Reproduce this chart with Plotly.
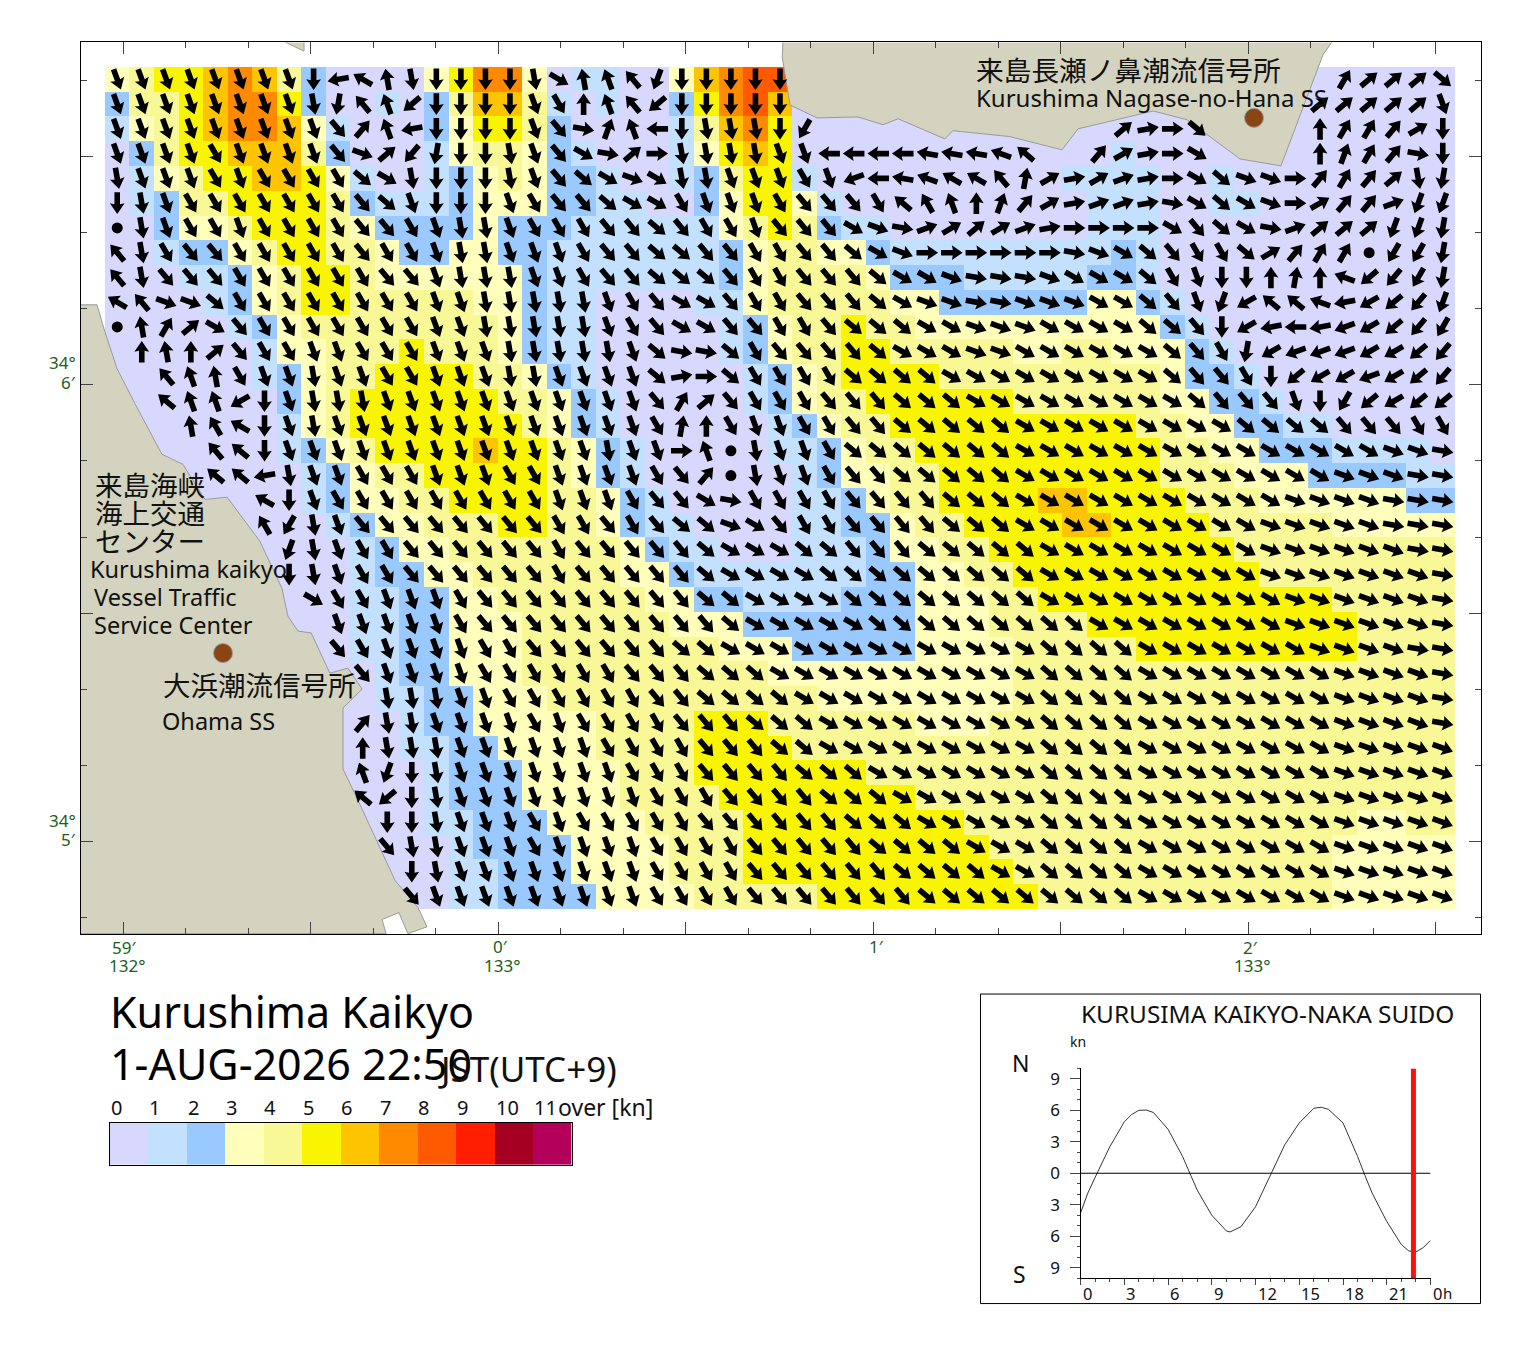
"""Kurushima Kaikyo tidal current map with the daily current curve."""
import math
import plotly.graph_objects as go

# current speed level of each grid cell, north to south, west to east
LEVEL_ROWS = [
    "3455676420000357730" "1100367880000000000" "00000000000000000",
    "2445677520010246641" "0100257860000000000" "00000000000000000",
    "1345677631000235542" "0000146750000000000" "00000000000000000",
    "0245566642000134432" "1000135650000000000" "00010000000000000",
    "0134556653100123432" "2100124551000000000" "01111001000000000",
    "0124455554211123332" "2110023553100000000" "00111001100000000",
    "0023345554322223222" "1111113454211000000" "00111000000000000",
    "0012234554432233221" "1111112344332111111" "11121000000000000",
    "0001123455433333321" "1111112344443222111" "11221000000000000",
    "0000123455444443321" "1000011344444332222" "22332100000000000",
    "0000012344444444321" "1000001234454433333" "33333210000000000",
    "0000001334445444321" "1000001234455444443" "34433321000000000",
    "0000001234455554432" "1000000123455554444" "44444322100000000",
    "0000000234555555443" "2100000123445555554" "44444332210000000",
    "0000000134555555543" "2100000012344555555" "55554433221100000",
    "0000000123455556554" "3210000011234455555" "55555443322211110",
    "0000000012344555554" "3210000001233445555" "55555444333222211",
    "0000000012334455554" "4321000001123445555" "66555544433333322",
    "0000000001233444554" "4321100001122344555" "56655554444433333",
    "0000000000123344444" "4432110001112334455" "55555555444444444",
    "0000000000122334444" "4433211111112233445" "55555555544444444",
    "0000000000112233444" "4443322111122233344" "55555555555544444",
    "0000000000112233344" "4444333222222233344" "44555555555554444",
    "0000000000112233344" "4444443332222233334" "44445555555554444",
    "0000000000012233344" "4444444433333333334" "44444444444444444",
    "0000000000011223334" "4444444444333333334" "44444444444444444",
    "0000000000001223333" "3444455544444433344" "44444444444444444",
    "0000000000001122333" "3444455554444444444" "44444444444444444",
    "0000000000000122233" "3344455555554444444" "44444444444444444",
    "0000000000000122233" "3344445555555544444" "44444444444444444",
    "0000000000000112223" "3334444555555555444" "44444444444443344",
    "0000000000000012222" "3333444555555555544" "44444444444433333",
    "0000000000000011222" "3333444555555555554" "44444444444433333",
    "0000000000000011222" "2333344444555555555" "44444444444433333",
]

# heading of each cell in tens of degrees, base 36 (0 north, 9 east, i south, r west)
# "." is slack water, blank is no arrow
HEADING_ROWS = [
    "ggggggggi" "quzhiiiih" "czywkiiiii" "                      " "3555d",
    "ggggggggh" "jwyniiiig" "f0ywniiiii" "                     " "55555g",
    "ggggggggg" "e4yqiiiig" "ea2yrihhhil" "            " "589d" "    " "03346i",
    "ggggfgggg" "eb5mjiihg" "eca59hhhhggrrrrssstv" "  " "4689c" "    " "0234ai",
    "hgggfgfff" "fdchiiihg" "edcbchhgggfgprstuuw1686789cdbb94345hj",
    "ihgffffff" "fedgiiigf" "eedccfgggfeeefvxy02468778acdcb96447kk",
    ".hgffgfff" "feefghhgf" "ffeedeffgeeecba7656789999cedca7555kkj",
    "whfeeffff" "feffghhgg" "gfeeddeeffeedcb999999abcdeffd6433.llj",
    "wheeeffff" "ffeeghhhg" "gfeedddeffeeedccbaaabcccdfgii010tnmlj",
    "uwbbdffff" "ffffgghhh" "hhgfecceffeeedcbbaabbbccdegkovvtqonmk",
    ".z35cefff" "ffffgghhh" "hhgfecceeffedddccbbbccccddeioqrqponml",
    " 0z05effg" "gfffggghh" "hhhgdaadfeeeedcccbbccccccdefjopppoonm",
    "  wyzfggh" "ggffggghh" "ggggd89dffffddddcccccccccdeefinooponm",
    "  vyyoigh" "hhggggggg" "gggge35efffeeedddcccccccccdeeegilnonn",
    "   zxuigh" "ggggggggg" "ggggf10fggffeedddddcccccccccddddeeeff",
    "    wvigg" "ggggggggg" "gghgg9y.hggfdddddddcccccccccccccccbba",
    "    vvqhg" "gfffgggff" "ggggfe4.hggfeedddddcccccccccccccbbbaa",
    "      uig" "fffffffff" "gggfeecaffffeeeedddcccccccccccbbbbaaa",
    "      xlh" "geeeeeeee" "ffefeddbceffeeeedddccccccccccbbbbbaaa",
    "       kh" "gffeeeeee" "feeeeedcccddeeedddddcccccccccbbbbbbaa",
    "       ih" "gffeeeeee" "feeeeedccccdddddddddcccccccccbbbbbbba",
    "        c" "ffgggfeee" "eeeeeeddccccddddddddccccccccccbbbbbba",
    "         " "gggggfeee" "eeeeeeedcccccdddddddddccccccccbbbbbba",
    "         " "efggggffe" "eeeeeddcccccccccccccddddcccccccbbbbaa",
    "          " "eggggfff" "fffeeedddcccccccccccddddccccccccbbbba",
    "           " "hhhggff" "ffffeeddddccccccccccddddccccccccbbbba",
    "          " "4hhggggf" "gffffeeedddcccccccccddddccccccccbbbba",
    "          " "0hhhgggg" "ggffffeeeddcccccccccddddccccccccbbbbb",
    "          " "ykihgggg" "gggfffeeeedddcccccccddddccccccccbbbbb",
    "          " "vnihgggg" "ggggfffeeeedddccccccddddccccccccbbbbb",
    "           " "iihgggf" "gfffffeeeeeedddcccccddddccccccccbbbbb",
    "           " "ehhgggf" "ggggffffeeeeeddddcccddddccccccccbbbbb",
    "            " "ihgggg" "ggggffffeeeeeeddddccddddccccccccbbbbb",
    "            " "eggggg" "ggggffffeeeeeeedddddddddccccccccbbbbb",
]

SPEED_LABELS = ["0", "1", "2", "3", "4", "5", "6", "7", "8", "9", "10", "11"]
SPEED_COLORS = ["#D8D8FF", "#C3E1FF", "#99C9FF", "#FFFFBB", "#F8F896", "#F9F500",
                "#FFC400", "#FF8A00", "#FF5A00", "#FF1E00", "#A50021", "#B4005A"]

# coast outlines, minutes of arc from 133 deg 0 min E and 34 deg 5 min N
WEST_LAND_LON = [-1.115, -1.070, -1.049, -1.017, -0.969, -0.897, -0.841, -0.782, -0.723, -0.636,
                 -0.577, -0.561, -0.534, -0.499, -0.449, -0.401, -0.363, -0.414, -0.414, -0.377,
                 -0.275, -0.214, -0.190, -0.241, -0.265, -0.310, -0.299, -1.115]
WEST_LAND_LAT = [1.175, 1.175, 1.116, 1.036, 0.959, 0.848, 0.826, 0.749, 0.754, 0.658,
                 0.555, 0.494, 0.461, 0.457, 0.369, 0.380, 0.334, 0.293, 0.159, 0.096,
                 -0.085, -0.144, -0.186, -0.201, -0.155, -0.170, -0.201, -0.201]
ISLET_LON = [-0.569, -0.518, -0.518]
ISLET_LAT = [1.750, 1.730, 1.750]
NORTH_LAND_LON = [0.759, 0.757, 0.778, 0.850, 0.959, 1.026, 1.066, 1.191, 1.212, 1.364,
                  1.503, 1.546, 1.746, 1.836, 1.978, 2.087, 2.199, 2.223]
NORTH_LAND_LAT = [1.750, 1.717, 1.612, 1.584, 1.586, 1.569, 1.582, 1.538, 1.556, 1.543,
                  1.514, 1.560, 1.599, 1.580, 1.494, 1.479, 1.722, 1.750]
STATION_LON = [2.015, -0.734]
STATION_LAT = [1.584, 0.413]

# current at the strait through the day, hours and knots (north positive)
CURVE_HOURS = [0, 0.5, 1, 2, 3, 3.5, 4, 4.5, 5, 6, 7, 7.5, 8, 9, 10, 10.25, 11, 12, 13, 14,
               15, 16, 16.5, 17, 18, 19, 19.5, 20, 21, 22, 22.5, 23, 23.5, 24]
CURVE_KNOTS = [-3.8, -1.9, -0.4, 2.5, 4.9, 5.6, 6.0, 6.03, 5.8, 4.2, 1.6, 0, -1.6, -4.0, -5.5, -5.6,
               -5.1, -3.2, -0.3, 2.7, 4.8, 6.2, 6.3, 6.1, 4.8, 1.6, -0.2, -1.9, -4.6, -6.8,
               -7.4, -7.5, -7.1, -6.4]
NOW_HOUR = 22.83
HOUR_TICKS = [0, 3, 6, 9, 12, 15, 18, 21, 24]
HOUR_LABELS = ["0", "3", "6", "9", "12", "15", "18", "21", "0"]

# page geometry (the browser keeps an 8 px body margin)
PAGE = 8
W, H = 1504, 1337
PX_PER_LON, PX_PER_LAT = 375.0, 457.7
GRID_LON0, GRID_LON_STEP = -1.0488, 24.545 / PX_PER_LON
GRID_LAT0, GRID_LAT_STEP = 1.6954, 24.8 / PX_PER_LAT


def paper_x(px):
    return (px - PAGE) / W


def paper_y(py):
    return 1 - (py - PAGE) / H


def heading_of(ch):
    return int(ch, 36) * 10


def arrow_polygon(lon, lat, heading):
    # block arrow, sizes in screen pixels, turned to the heading
    shape = [(-10.8, -2.8), (1, -2.8), (0, -7.4), (10.8, 0), (0, 7.4), (1, 2.8), (-10.8, 2.8)]
    a = math.radians(heading)
    ux, uy = math.sin(a), math.cos(a)
    xs, ys = [], []
    for along, across in shape:
        xs.append(lon + (along * ux + across * uy) / PX_PER_LON)
        ys.append(lat + (along * uy - across * ux) / PX_PER_LAT)
    xs.extend([xs[0], None])
    ys.extend([ys[0], None])
    return xs, ys


n_rows = len(LEVEL_ROWS)
n_cols = 55
cell_lon = [GRID_LON0 + GRID_LON_STEP * (c + 0.5) for c in range(n_cols)]
cell_lat = [GRID_LAT0 - GRID_LAT_STEP * (r + 0.5) for r in range(n_rows)]
levels = [[int(ch) for ch in row.ljust(n_cols, "0")] for row in LEVEL_ROWS]

arrow_x, arrow_y, dot_x, dot_y = [], [], [], []
for r, row in enumerate(HEADING_ROWS):
    for c, ch in enumerate(row.ljust(n_cols)[:n_cols]):
        if ch == " ":
            continue
        if ch == ".":
            dot_x.append(cell_lon[c])
            dot_y.append(cell_lat[r])
        else:
            xs, ys = arrow_polygon(cell_lon[c], cell_lat[r], heading_of(ch))
            arrow_x += xs
            arrow_y += ys

scale = []
for i, col in enumerate(SPEED_COLORS):
    scale += [[i / 12, col], [(i + 1) / 12, col]]

fig = go.Figure()

# current map
fig.add_trace(go.Heatmap(x=cell_lon, y=cell_lat[::-1], z=levels[::-1], colorscale=scale,
                         zmin=-0.5, zmax=11.5, showscale=False, hoverinfo="skip"))
for lons, lats in [(WEST_LAND_LON, WEST_LAND_LAT), (ISLET_LON, ISLET_LAT), (NORTH_LAND_LON, NORTH_LAND_LAT)]:
    fig.add_trace(go.Scatter(x=lons, y=lats, mode="lines", fill="toself", fillcolor="#D3D3BF",
                             line=dict(color="#9A9A9A", width=1), hoverinfo="skip"))
fig.add_trace(go.Scatter(x=STATION_LON, y=STATION_LAT, mode="markers", hoverinfo="skip",
                         marker=dict(size=19, color="#8B4513", line=dict(color="#9A9A9A", width=1))))
fig.add_trace(go.Scatter(x=arrow_x, y=arrow_y, mode="lines", fill="toself", fillcolor="black",
                         line=dict(color="black", width=0), hoverinfo="skip"))
fig.add_trace(go.Scatter(x=dot_x, y=dot_y, mode="markers", marker=dict(size=11, color="black"),
                         hoverinfo="skip"))

# speed legend
fig.add_trace(go.Heatmap(x=SPEED_LABELS, y=["speed"], z=[list(range(12))], colorscale=scale,
                         zmin=-0.5, zmax=11.5, showscale=False, hoverinfo="skip",
                         xaxis="x3", yaxis="y3"))

# daily curve
fig.add_trace(go.Scatter(x=[0, 24], y=[0, 0], mode="lines", line=dict(color="black", width=1),
                         xaxis="x2", yaxis="y2", hoverinfo="skip"))
fig.add_trace(go.Scatter(x=CURVE_HOURS, y=CURVE_KNOTS, mode="lines", line=dict(color="black", width=0.8),
                         xaxis="x2", yaxis="y2", hoverinfo="skip"))
fig.add_trace(go.Scatter(x=[NOW_HOUR, NOW_HOUR], y=[-10, 10], mode="lines", line=dict(color="#FF1010", width=5),
                         xaxis="x2", yaxis="y2", hoverinfo="skip"))

FONT = "Noto Sans, Noto Sans CJK JP"
DARK = "#111111"
GREEN = "#1B5E20"
texts = [
    ("来島長瀬ノ鼻潮流信号所", 974, 68, 27.7, DARK, "left"),
    ("Kurushima Nagase-no-Hana SS", 974, 96, 24, DARK, "left"),
    ("来島海峡", 93, 484, 27.5, DARK, "left"),
    ("海上交通", 93, 512, 27.5, DARK, "left"),
    ("センター", 93, 540, 27.5, DARK, "left"),
    ("Kurushima kaikyo", 88, 568, 23.5, DARK, "left"),
    ("Vessel Traffic", 92, 596, 23.5, DARK, "left"),
    ("Service Center", 92, 624, 23.5, DARK, "left"),
    ("大浜潮流信号所", 161, 685, 27.5, DARK, "left"),
    ("Ohama SS", 160, 720, 23.5, DARK, "left"),
    ("59′", 124, 947, 17, GREEN, "center"),
    ("132°", 127, 965, 17, GREEN, "center"),
    ("0′", 500, 946, 17, GREEN, "center"),
    ("133°", 502, 965, 17, GREEN, "center"),
    ("1′", 876, 946, 17, GREEN, "center"),
    ("2′", 1250, 947, 17, GREEN, "center"),
    ("133°", 1252, 965, 17, GREEN, "center"),
    ("34°", 62, 361, 17, GREEN, "center"),
    ("6′", 68, 381, 17, GREEN, "center"),
    ("34°", 62, 820, 17, GREEN, "center"),
    ("5′", 68, 839, 17, GREEN, "center"),
    ("Kurushima Kaikyo", 108, 1011, 43, "black", "left"),
    ("1-AUG-2026 22:50", 108, 1063, 43, "black", "left"),
    ("JST(UTC+9)", 436, 1068, 35, DARK, "left"),
    ("over [kn]", 556, 1107, 23, DARK, "left"),
    ("KURUSIMA KAIKYO-NAKA SUIDO", 1079, 1013, 24.4, DARK, "left"),
    ("kn", 1078, 1041, 14, DARK, "center"),
    ("N", 1020, 1063, 23, DARK, "center"),
    ("S", 1019, 1274, 23, DARK, "center"),
    ("h", 1447, 1293, 15, DARK, "center"),
]
for i, label in enumerate(SPEED_LABELS):
    texts.append((label, 116.5 + 38.4 * i + (7 if i > 9 else 0), 1107, 20, DARK, "center"))

annotations = [dict(text=t, x=paper_x(px), y=paper_y(py), xref="paper", yref="paper", showarrow=False,
                    xanchor=anchor, yanchor="middle", font=dict(family=FONT, size=size, color=color))
               for t, px, py, size, color, anchor in texts]
# hour labels start at their tick
for hour, label in zip(HOUR_TICKS, HOUR_LABELS):
    annotations.append(dict(text=label, x=hour, y=paper_y(1293), xref="x2", yref="paper", showarrow=False,
                            xanchor="left", yanchor="middle", font=dict(family=FONT, size=16.5, color=DARK)))

fig.update_layout(
    width=W, height=H, margin=dict(l=0, r=0, t=0, b=0), showlegend=False,
    paper_bgcolor="white", plot_bgcolor="white", annotations=annotations,
    font=dict(family=FONT, color=DARK),
    shapes=[dict(type="rect", xref="paper", yref="paper", x0=paper_x(980.5), x1=paper_x(1480.5),
                 y0=paper_y(993.5), y1=paper_y(1303.5), line=dict(color="black", width=1))],
    xaxis=dict(domain=[paper_x(80.5), paper_x(1480.5)], range=[-1.114, 2.619], showgrid=False, zeroline=False,
               showline=True, linecolor="black", linewidth=1, mirror="ticks", ticks="inside", ticklen=12,
               tick0=0, dtick=0.5, showticklabels=False,
               minor=dict(ticks="inside", ticklen=6, tick0=0, dtick=1 / 6, showgrid=False)),
    yaxis=dict(domain=[paper_y(933.5), paper_y(40.5)], range=[-0.202, 1.749], showgrid=False, zeroline=False,
               showline=True, linecolor="black", linewidth=1, mirror="ticks", ticks="inside", ticklen=12,
               tick0=0, dtick=0.5, showticklabels=False,
               minor=dict(ticks="inside", ticklen=6, tick0=0, dtick=1 / 6, showgrid=False)),
    xaxis2=dict(domain=[paper_x(1080.5), paper_x(1430.5)], range=[0, 24], anchor="y2", showgrid=False, zeroline=False,
                showline=True, linecolor="black", linewidth=1, ticks="outside", ticklen=6,
                tickmode="array", tickvals=HOUR_TICKS, showticklabels=False,
                minor=dict(ticks="outside", ticklen=3, tick0=0, dtick=1, showgrid=False)),
    yaxis2=dict(domain=[paper_y(1278), paper_y(1068)], range=[-10, 10], anchor="x2", showgrid=False, zeroline=False,
                showline=True, linecolor="black", linewidth=1, ticks="outside", ticklen=10,
                tickmode="array", tickvals=[-9, -6, -3, 0, 3, 6, 9], ticktext=["9", "6", "3", "0", "3", "6", "9"],
                ticklabelstandoff=6, tickfont=dict(size=17, color=DARK, family=FONT),
                minor=dict(ticks="outside", ticklen=3, tick0=0, dtick=1, showgrid=False)),
    xaxis3=dict(domain=[paper_x(109.5), paper_x(571.5)], anchor="y3", showgrid=False, zeroline=False, type="category",
                showline=True, linecolor="black", linewidth=1, mirror=True, showticklabels=False, ticks=""),
    yaxis3=dict(domain=[paper_y(1164.5), paper_y(1122.5)], anchor="x3", showgrid=False, zeroline=False, type="category",
                showline=True, linecolor="black", linewidth=1, mirror=True, showticklabels=False, ticks=""),
)

fig.write_html("out.html")
